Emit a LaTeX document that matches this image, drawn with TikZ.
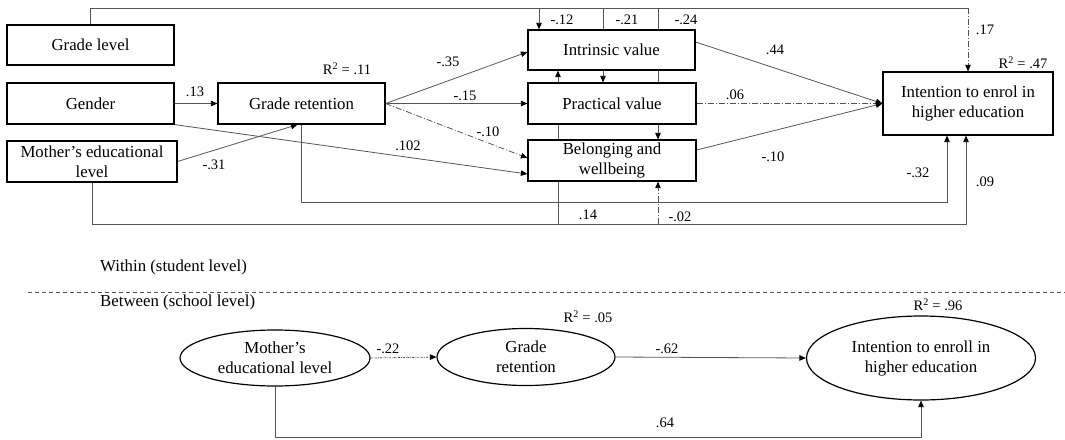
\documentclass[tikz,border=0pt]{standalone}
\usepackage{fontspec}
\setmainfont{Liberation Serif}
\usetikzlibrary{shapes.geometric,arrows.meta,calc}
\definecolor{linegray}{HTML}{555555}
\pgfdeclarelayer{bg}
\pgfsetlayers{bg,main}
\begin{document}
\begin{tikzpicture}[x=1pt,y=-1pt,
 box/.style={draw=black,line width=1.2pt,fill=white,inner sep=0pt,align=center,font=\fontsize{16.8}{20}\selectfont},
 oval/.style={ellipse,draw=black,line width=1.2pt,fill=white,inner sep=0pt,align=center,font=\fontsize{16.8}{20}\selectfont},
 lbl/.style={inner sep=0pt,font=\fontsize{14.5}{16}\selectfont},
 head/.style={inner sep=0pt,anchor=west,font=\fontsize{16.8}{20}\selectfont},
 conn/.style={draw=linegray,line width=0.8pt},
 arr/.style={conn,-{Triangle[length=6.5pt,width=5.5pt,color=black]}},
 dd/.style={dash pattern=on 6pt off 2pt on 1pt off 2pt},
 ddot/.style={dash pattern=on 2pt off 1pt on 0.6pt off 1pt},
]
\useasboundingbox (0,0) rectangle (1065,439);

% boxes
\node[box,minimum width=167pt,minimum height=40pt] (gl) at (90.5,45) {Grade level};
\node[box,minimum width=167pt,minimum height=41pt] (gen) at (90.5,103.5) {Gender};
\node[box,minimum width=170pt,minimum height=41pt] (mom) at (92,161.5) {Mother’s educational\\level};
\node[box,minimum width=167pt,minimum height=41pt] (gr) at (301.5,103.5) {Grade retention};
\node[box,minimum width=167pt,minimum height=40pt] (iv) at (611.5,50) {Intrinsic value};
\node[box,minimum width=168pt,minimum height=41pt] (pv) at (612,103.5) {Practical value};
\node[box,minimum width=168pt,minimum height=41pt] (bw) at (612,160.5) {Belonging and\\wellbeing};
\node[box,minimum width=170pt,minimum height=63pt] (int) at (968,103.5) {Intention to enrol in\\higher education};

% ellipses
\node[oval,minimum width=190pt,minimum height=56pt] (m2) at (275,358) {Mother’s\\educational level};
\node[oval,minimum width=178pt,minimum height=57pt] (g2) at (526,357) {Grade\\retention};
\node[oval,minimum width=229pt,minimum height=84pt] (i2) at (921,358) {Intention to enroll in\\higher education};

% coordinates
\coordinate (topR) at (968,8);
\coordinate (t1) at (539,8);
\coordinate (t2) at (603,8);
\coordinate (t3) at (658,8);
\coordinate (b1) at (558,224);
\coordinate (b2) at (658,224);
\coordinate (bR) at (966,224);
\coordinate (rR) at (947,202);
\coordinate (lowR) at (921,437);
\coordinate (sepL) at (28,292);
\coordinate (sepR) at (1065,292);

\begin{pgfonlayer}{bg}
\draw[conn] (gl.north) -- (gl.north |- topR) -- (topR);
\draw[arr,dd] (topR) -- (topR |- int.north);
\draw[arr] (t1) -- (t1 |- iv.north);
\draw[arr] (t2) -- (t2 |- pv.north);
\draw[arr] (t3) -- (t3 |- bw.north);
\draw[arr] (mom.south) |- (bR) -- (bR |- int.south);
\draw[arr] (b1) -- (b1 |- iv.south);
\draw[arr,dd] (b2) -- (b2 |- bw.south);
\draw[arr] (gr.south) |- (rR) -- (rR |- int.south);
\draw[arr] (mom.east) -- ([xshift=-4pt]gr.south);
\draw[arr] (gen.south east) -- ([yshift=-13.5pt]bw.west);
\draw[arr] (gen.east) -- (gr.west);
\draw[arr] (gr.east) -- ([yshift=-2pt]iv.west);
\draw[arr] (gr.east) -- (pv.west);
\draw[arr,dd] (gr.east) -- ([yshift=2.5pt]bw.west);
\draw[arr] ([yshift=8pt]iv.east) -- (int.west);
\draw[arr,dd] (pv.east) -- (int.west);
\draw[arr] ([yshift=10.5pt]bw.east) -- (int.west);
\draw[arr,ddot] (m2.east) -- (g2.west);
\draw[arr] (g2.east) -- (i2.west);
\draw[arr] (m2.south) |- (lowR) -- (i2.south);
\draw[conn,dash pattern=on 4pt off 3pt] (sepL) -- (sepR);
\end{pgfonlayer}

% labels
\node[lbl] (l1) at (195,92) {.13};
\node[lbl] (l2) at (214,165) {-.31};
\node[lbl] (l3) at (347,69) {R\textsuperscript{2} = .11};
\node[lbl] (l4) at (408,146) {.102};
\node[lbl] (l5) at (448,62) {-.35};
\node[lbl] (l6) at (465,96) {-.15};
\node[lbl] (l7) at (488,132) {-.10};
\node[lbl] (l8) at (562,20) {-.12};
\node[lbl] (l9) at (627,20) {-.21};
\node[lbl] (l10) at (686,20) {-.24};
\node[lbl] (l11) at (588,215) {.14};
\node[lbl] (l12) at (680,217) {-.02};
\node[lbl] (l13) at (775,50) {.44};
\node[lbl] (l14) at (735,95) {.06};
\node[lbl] (l15) at (773,157) {-.10};
\node[lbl] (l16) at (985,30) {.17};
\node[lbl] (l17) at (1023,63) {R\textsuperscript{2} = .47};
\node[lbl] (l18) at (918,173) {-.32};
\node[lbl] (l19) at (985,182) {.09};
\node[head] (within) at (100,267) {Within (student level)};
\node[head] (between) at (100,302) {Between (school level)};
\node[lbl] (l20) at (588,317) {R\textsuperscript{2} = .05};
\node[lbl] (l21) at (938,305) {R\textsuperscript{2} = .96};
\node[lbl] (l22) at (388,349) {-.22};
\node[lbl] (l23) at (667,349) {-.62};
\node[lbl] (l24) at (665,423) {.64};
\end{tikzpicture}
\end{document}
